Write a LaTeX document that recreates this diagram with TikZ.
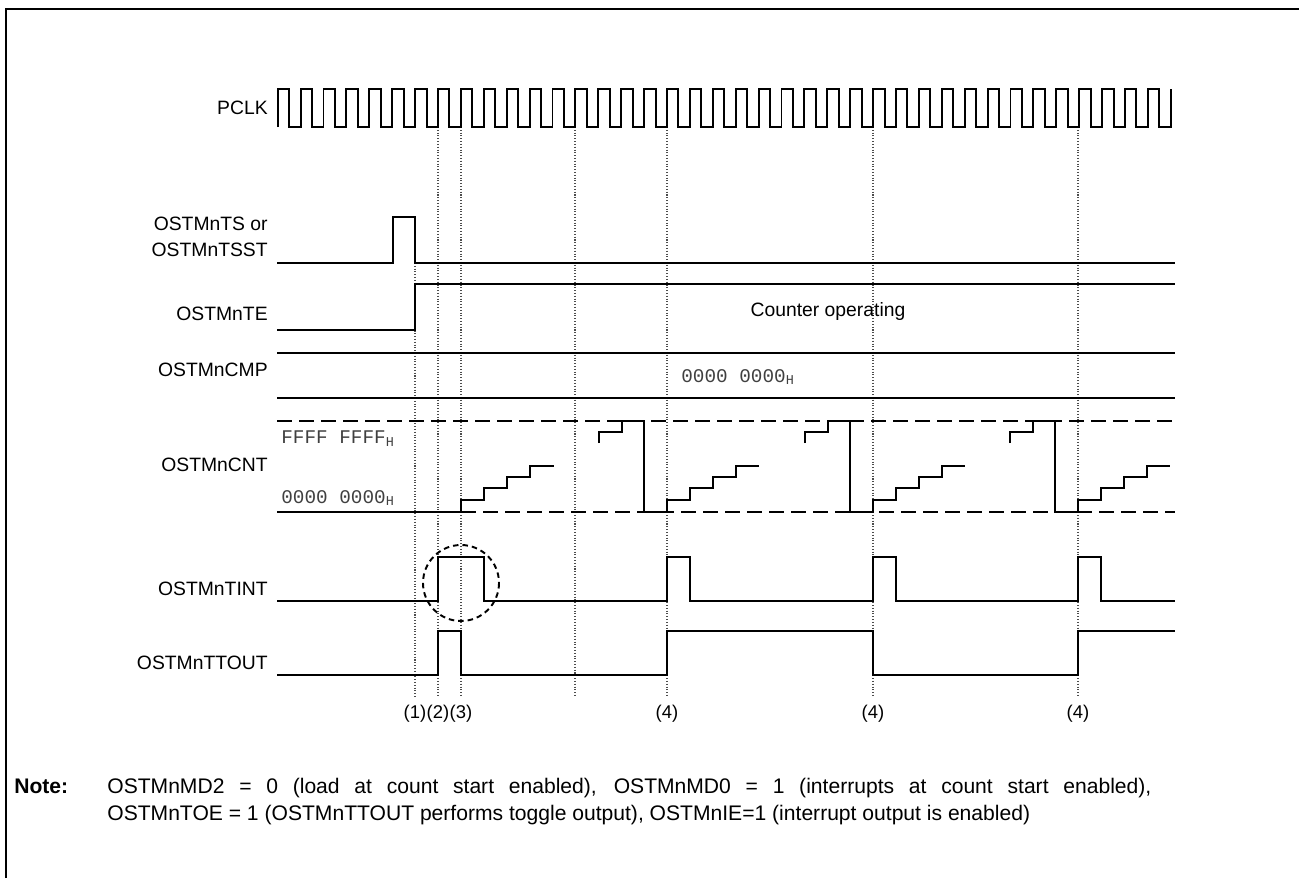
\documentclass[tikz,border=0pt]{standalone}
\usepackage{fontspec}
\setmainfont{Liberation Sans}
\setmonofont{Liberation Mono}
\usetikzlibrary{positioning}

\begin{document}
\begin{tikzpicture}[x=0.2mm, y=-0.2mm,
  lbl/.style={font=\fontsize{11}{14.8}\selectfont, anchor=east, align=right, inner sep=0pt},
  txt/.style={font=\fontsize{11}{12}\selectfont, inner sep=0pt},
  notetxt/.style={font=\fontsize{12}{14}\selectfont, inner sep=0pt, anchor=base west},
  evt/.style={font=\fontsize{10.5}{12}\selectfont, inner sep=0pt},
  hexval/.style={font=\ttfamily\fontsize{11}{12}\selectfont, text=black!75, anchor=west, inner sep=0pt},
  wave/.style={line width=1.1pt, line join=miter},
  guide/.style={densely dotted, line width=0.6pt, black!70},
  level/.style={dash pattern=on 3mm off 1.4mm, line width=0.9pt}
]
  \useasboundingbox (0,0) rectangle (1299,878);
  \draw[line width=1.6pt] (6,878) -- (6,9) -- (1299,9);

  \draw[guide] (415,263) -- (415,697);
  \draw[guide] (438,127) -- (438,697);
  \draw[guide] (461,127) -- (461,697);
  \draw[guide] (575,127) -- (575,697);
  \draw[guide] (667,127) -- (667,697);
  \draw[guide] (873,127) -- (873,697);
  \draw[guide] (1078,127) -- (1078,697);

  \node[lbl] (pclk) at (268,108) {PCLK};
  \node[lbl] (ts) at (268,236.5) {OSTMnTS or\\OSTMnTSST};
  \node[lbl] (te) at (268,314) {OSTMnTE};
  \node[lbl] (cmp) at (268,370) {OSTMnCMP};
  \node[lbl] (cnt) at (268,465) {OSTMnCNT};
  \node[lbl] (tint) at (268,589) {OSTMnTINT};
  \node[lbl] (ttout) at (268,663) {OSTMnTTOUT};

  \draw[wave] (277.7,127) \foreach \k in {0,...,38} {
    -- ++(0,-38) -- ++(11.45,0) -- ++(0,38) -- ++(11.45,0)} -- ++(0,-38);

  \draw[wave] (277,263) -- (393,263) -- (393,217) -- (415,217) -- (415,263) -- (1175,263);
  \draw[wave] (277,330) -- (415,330) -- (415,284) -- (1175,284);
  \node[txt] (cntop) at (828,311) {Counter operating};

  \draw[line width=1.1pt] (277,353) -- (1175,353);
  \draw[line width=0.6pt] (277,398) -- (1175,398);
  \node[hexval] (cmpval) at (681,377) {0000 0000\textsubscript{H}};

  \draw[level] (277,421) -- (1175,421);
  \draw[level] (461,512) -- (1175,512);
  \node[hexval] (cntmax) at (281,439) {FFFF FFFF\textsubscript{H}};
  \node[hexval] (cntmin) at (281,498) {0000 0000\textsubscript{H}};
  \draw[wave] (277,512) -- (461,512) -- (461,500) -- (484,500) -- (484,488) -- (507,488) -- (507,477) -- (530,477) -- (530,466) -- (554,466);
  \draw[wave] (599,443) -- (599,432) -- (622,432) -- (622,421) -- (644,421) -- (644,512) -- (667,512) -- (667,500) -- (690,500) -- (690,488) -- (713,488) -- (713,477) -- (736,477) -- (736,466) -- (759,466);
  \draw[wave] (805,443) -- (805,432) -- (828,432) -- (828,421) -- (850,421) -- (850,512) -- (873,512) -- (873,500) -- (896,500) -- (896,488) -- (919,488) -- (919,477) -- (942,477) -- (942,466) -- (965,466);
  \draw[wave] (1010,443) -- (1010,432) -- (1033,432) -- (1033,421) -- (1055,421) -- (1055,512) -- (1078,512) -- (1078,500) -- (1101,500) -- (1101,488) -- (1124,488) -- (1124,477) -- (1147,477) -- (1147,466) -- (1170,466);

  \draw[wave] (277,601) -- (438,601) -- (438,557) -- (484,557) -- (484,601) -- (667,601) -- (667,557) -- (690,557) -- (690,601) -- (873,601) -- (873,557) -- (896,557) -- (896,601) -- (1078,601) -- (1078,557) -- (1101,557) -- (1101,601) -- (1175,601);
  \draw[line width=1.1pt, dash pattern=on 1.1mm off 0.8mm] (461,583) circle (38);

  \draw[wave] (277,675) -- (438,675) -- (438,631) -- (461,631) -- (461,675) -- (667,675) -- (667,631) -- (873,631) -- (873,675) -- (1078,675) -- (1078,631) -- (1175,631);

  \node[evt] (ev1) at (415,714) {(1)};
  \node[evt] (ev2) at (438,714) {(2)};
  \node[evt] (ev3) at (461,714) {(3)};
  \node[evt] (ev4a) at (667,714) {(4)};
  \node[evt] (ev4b) at (873,714) {(4)};
  \node[evt] (ev4c) at (1078,714) {(4)};

  \node[notetxt] (notehd) at (14,793) {\textbf{Note:}};
  \node[notetxt] (notea) at (107,793) {\makebox[208.8mm][s]{OSTMnMD2 = 0 (load at count start enabled), OSTMnMD0 = 1 (interrupts at count start enabled),}};
  \node[notetxt] (noteb) at (107,820) {OSTMnTOE = 1 (OSTMnTTOUT performs toggle output), OSTMnIE=1 (interrupt output is enabled)};
\end{tikzpicture}
\end{document}
